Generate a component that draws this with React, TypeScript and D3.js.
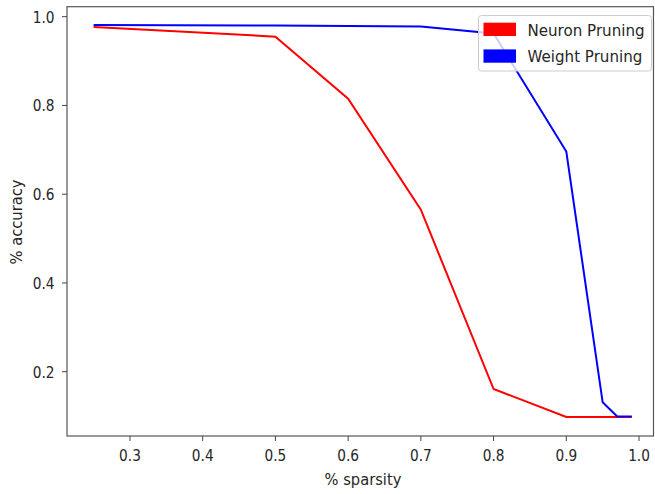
import React from "react";
import * as d3 from "d3";

const sparsity = [0.25, 0.5, 0.6, 0.7, 0.8, 0.9, 0.95, 0.97, 0.99];
const neuronAcc = [0.977, 0.955, 0.815, 0.565, 0.161, 0.098, 0.098, 0.098, 0.098];
const weightAcc = [0.981, 0.98, 0.979, 0.978, 0.962, 0.696, 0.131, 0.099, 0.099];
const xTicks = [0.3, 0.4, 0.5, 0.6, 0.7, 0.8, 0.9, 1.0];
const yTicks = [0.2, 0.4, 0.6, 0.8, 1.0];
const seriesNames = ["Neuron Pruning", "Weight Pruning"];
const seriesColors = ["#ff0000", "#0000ff"];

const W = 655;
const H = 494;
const L = 67, R = 653.5, T = 6.7, B = 436;
const FONT = "DejaVu Sans, sans-serif";
const FS = 16.5;
const TXT = "#262626";

function Txt({ x, y, anchor = "start", rotate = 0, sx = 0.83, children }: any) {
  return (
    <g transform={`translate(${x},${y}) rotate(${rotate}) scale(${sx},1)`}>
      <text textAnchor={anchor} fontFamily={FONT} fontSize={FS} fill={TXT}>
        {children}
      </text>
    </g>
  );
}

export default function App() {
  const x = d3.scaleLinear().domain([0.2134, 1.0199]).range([L, R]);
  const y = d3.scaleLinear().domain([0.0551, 1.0225]).range([B, T]);
  const line = d3
    .line<[number, number]>()
    .x((d) => x(d[0]))
    .y((d) => y(d[1]));
  const series = [neuronAcc, weightAcc];

  return (
    <svg
      width={W}
      height={H}
      style={{ position: "absolute", left: 0, top: 0, background: "#fff" }}
    >
      <rect x={0} y={0} width={W} height={H} fill="#fff" />
      {series.map((vals, i) => (
        <path
          key={i}
          d={line(sparsity.map((s, j) => [s, vals[j]]) as [number, number][]) || ""}
          fill="none"
          stroke={seriesColors[i]}
          strokeWidth={2}
          strokeLinejoin="miter"
        />
      ))}
      <rect x={L} y={T} width={R - L} height={B - T} fill="none" stroke="#555" strokeWidth={1.2} />
      {xTicks.map((t) => (
        <g key={"x" + t}>
          <line x1={x(t)} x2={x(t)} y1={B} y2={B + 5} stroke="#444" strokeWidth={1} />
          <Txt x={x(t)} y={461} anchor="middle">{t.toFixed(1)}</Txt>
        </g>
      ))}
      {yTicks.map((t) => (
        <g key={"y" + t}>
          <line x1={L - 5} x2={L} y1={y(t)} y2={y(t)} stroke="#444" strokeWidth={1} />
          <Txt x={54.5} y={y(t) + 6} anchor="end">{t.toFixed(1)}</Txt>
        </g>
      ))}
      <Txt x={363} y={485} anchor="middle" sx={0.89}>% sparsity</Txt>
      <Txt x={22} y={222} anchor="middle" rotate={-90} sx={0.89}>% accuracy</Txt>
      <g>
        <rect x={478.5} y={15.5} width={173} height={55.5} rx={3} fill="#fff" fillOpacity={0.8} stroke="#cccccc" strokeWidth={1} />
        {seriesNames.map((n, i) => (
          <g key={n}>
            <rect x={483.5} y={22.7 + i * 26.7} width={32.5} height={13.3} fill={seriesColors[i]} />
            <Txt x={527.5} y={35.5 + i * 26.7} sx={0.915}>{n}</Txt>
          </g>
        ))}
      </g>
    </svg>
  );
}
